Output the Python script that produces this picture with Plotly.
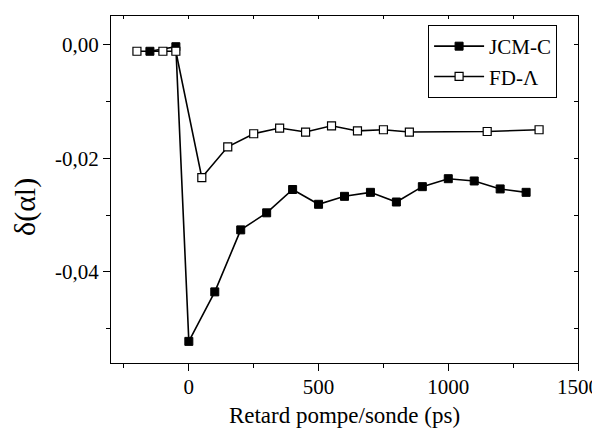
import plotly.graph_objects as go

jcm_x = [-150, -50, 0, 100, 200, 300, 400, 500, 600, 700, 800, 900, 1000, 1100, 1200, 1300]
jcm_y = [-0.0012, -0.0004, -0.0522, -0.0435, -0.0326, -0.0296, -0.0255, -0.0281, -0.0267, -0.0260, -0.0277, -0.0250, -0.0236, -0.0240, -0.0254, -0.0260]

fd_x = [-200, -100, -50, 50, 150, 250, 350, 450, 550, 650, 750, 850, 1150, 1350]
fd_y = [-0.0012, -0.0012, -0.0012, -0.0234, -0.0180, -0.0157, -0.0147, -0.0154, -0.0143, -0.0152, -0.0150, -0.0154, -0.0153, -0.0150]

x_tickvals = [0, 500, 1000, 1500]
x_ticktext = ["0", "500", "1000", "1500"]
y_tickvals = [0, -0.02, -0.04]
y_ticktext = ["0,00", "-0,02", "-0,04"]

FONT = "Liberation Serif, Times New Roman, serif"
XR = [-300, 1500]
YR = [-0.056, 0.005]

fig = go.Figure()
fig.add_trace(go.Scatter(
    x=jcm_x, y=jcm_y, name="JCM-C", mode="lines+markers",
    line=dict(color="black", width=1.6),
    marker=dict(symbol="square", size=8, color="black", line=dict(color="black", width=1)),
))
fig.add_trace(go.Scatter(
    x=fd_x, y=fd_y, name="FD-Λ", mode="lines+markers",
    line=dict(color="black", width=1.6),
    marker=dict(symbol="square", size=8, color="white", line=dict(color="black", width=1.2)),
))

axis_common = dict(showgrid=False, zeroline=False, showline=True, linecolor="black", linewidth=1.2,
                   tickcolor="black", tickwidth=1.2, automargin=False)

# page body has an 8px default margin; figure sized so plot area lands at the reference position
fig.update_layout(
    width=592, height=434,
    margin=dict(l=103, r=22, t=8, b=79),
    paper_bgcolor="white", plot_bgcolor="white",
    font=dict(family=FONT, size=21, color="black"),
    showlegend=True,
    legend=dict(x=0.679, y=0.974, xanchor="left", yanchor="top",
                bordercolor="black", borderwidth=1, bgcolor="white",
                font=dict(family=FONT, size=21), tracegroupgap=0, itemwidth=50),
    xaxis=dict(range=XR, tickmode="array", tickvals=x_tickvals, ticktext=x_ticktext,
               ticks="outside", ticklen=7, ticklabelstandoff=-2,
               minor=dict(tickmode="linear", tick0=-250, dtick=500, ticks="outside", ticklen=4,
                          tickcolor="black", tickwidth=1.2),
               title=dict(text="Retard pompe/sonde (ps)", font=dict(family=FONT, size=23), standoff=8),
               tickfont=dict(family=FONT, size=21), **axis_common),
    yaxis=dict(range=YR, tickmode="array", tickvals=y_tickvals, ticktext=y_ticktext,
               ticks="outside", ticklen=7,
               minor=dict(tickmode="linear", tick0=-0.01, dtick=0.02, ticks="outside", ticklen=4,
                          tickcolor="black", tickwidth=1.2),
               tickfont=dict(family=FONT, size=21), **axis_common),
    xaxis2=dict(range=XR, overlaying="x", side="top", showticklabels=False,
                tickmode="linear", tick0=-250, dtick=250, ticks="inside", ticklen=3,
                **axis_common),
    yaxis2=dict(range=YR, overlaying="y", side="right", showticklabels=False,
                tickmode="linear", tick0=0, dtick=0.01, ticks="inside", ticklen=4,
                **axis_common),
    annotations=[dict(text="δ(αl)", textangle=-90, xref="paper", yref="paper",
                      x=0, xshift=-86, xanchor="center", y=0.4496, yanchor="middle",
                      showarrow=False, font=dict(family=FONT, size=30, color="black"))],
)
fig.add_trace(go.Scatter(x=[None], y=[None], xaxis="x2", yaxis="y2", showlegend=False, hoverinfo="skip"))

fig.write_html("out.html")
